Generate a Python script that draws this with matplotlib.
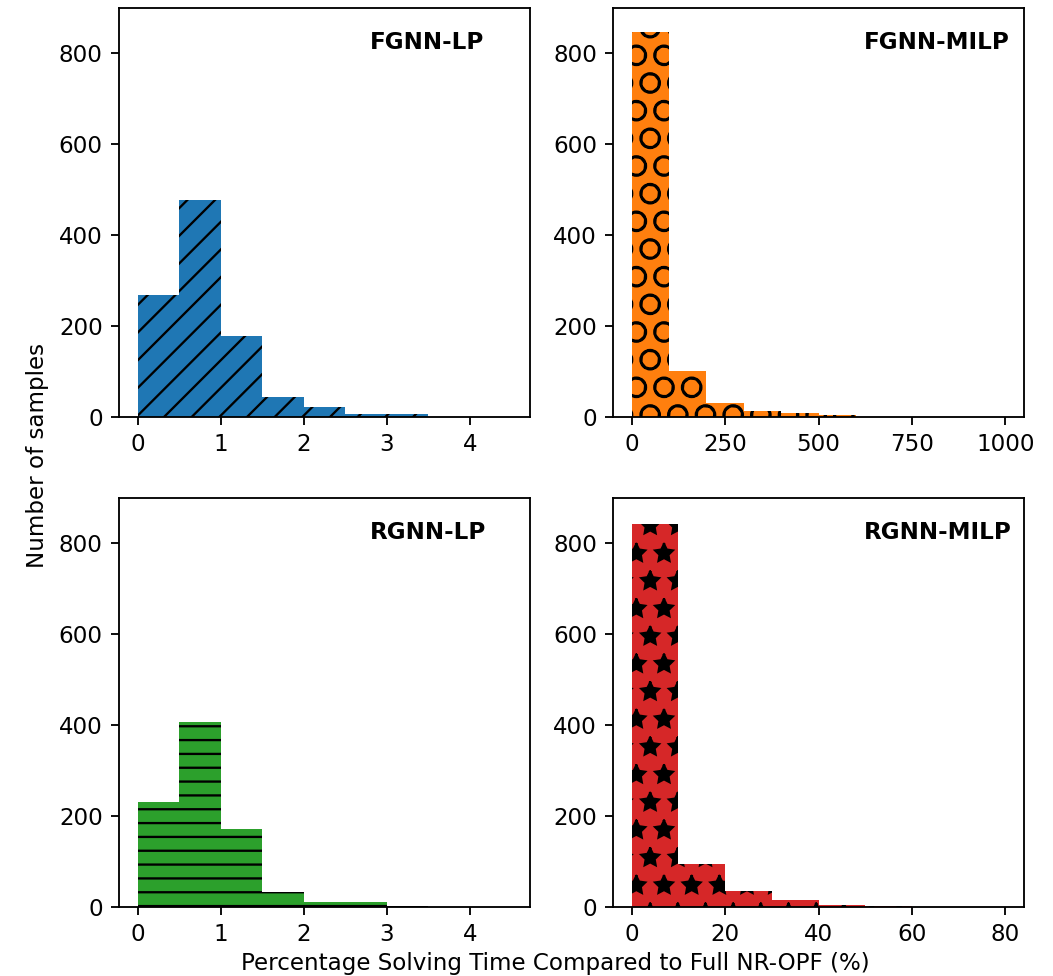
import numpy as np
import matplotlib
matplotlib.use("Agg")
import matplotlib.pyplot as plt

# bin edges
bins_lp = np.arange(0, 5, 0.5)
bins_fmilp = np.arange(0, 1100, 100)
bins_rmilp = np.arange(0, 90, 10)

# sample counts per bin
fgnn_lp = [268, 477, 177, 44, 22, 7, 6, 0, 0]
fgnn_milp = [846, 100, 30, 12, 8, 4, 0, 0, 0, 0]
rgnn_lp = [231, 407, 172, 34, 12, 10, 3, 0, 0]
rgnn_milp = [842, 95, 35, 15, 4, 3, 0, 0]

paneles = [
    ("FGNN-LP", bins_lp, fgnn_lp, "tab:blue", "//"),
    ("FGNN-MILP", bins_fmilp, fgnn_milp, "tab:orange", "O"),
    ("RGNN-LP", bins_lp, rgnn_lp, "tab:green", "--"),
    ("RGNN-MILP", bins_rmilp, rgnn_milp, "tab:red", "*"),
]

dpi = 166
fig, axs = plt.subplots(2, 2, figsize=(1053 / dpi, 976 / dpi), dpi=dpi)
plt.subplots_adjust(left=0.113, right=0.9725, top=0.992, bottom=0.0707,
                    wspace=0.202, hspace=0.198)

for ax, (nombre, bordes, cuentas, color, patron) in zip(axs.flat, paneles):
    bordes = np.asarray(bordes)
    ax.hist(bordes[:-1], bins=bordes, weights=cuentas, color=color, hatch=patron)
    ax.set_ylim(0, 900)
    ax.set_yticks([0, 200, 400, 600, 800])
    ax.text(0.61, 0.915, nombre, transform=ax.transAxes, fontweight="bold",
            ha="left", va="center")

axs[1, 1].set_xticks([0, 20, 40, 60, 80])

fig.text(0.036, 0.533, "Number of samples", rotation=90, ha="center", va="center")
fig.text(0.527, 0.0125, "Percentage Solving Time Compared to Full NR-OPF (%)",
         ha="center", va="center")

fig.savefig("out.png", dpi=dpi)
